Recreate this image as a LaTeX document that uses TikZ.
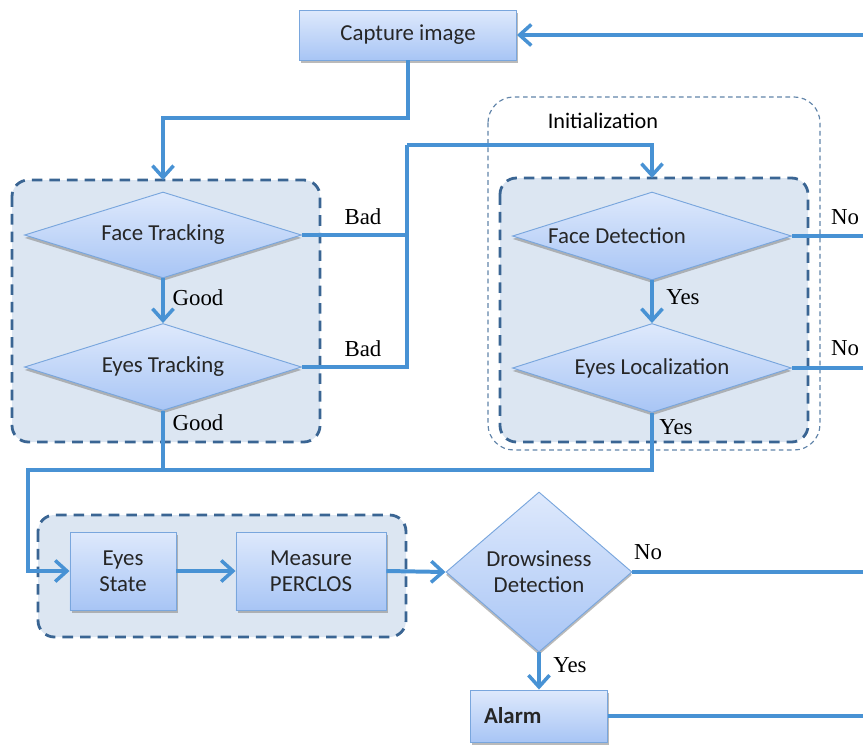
\documentclass[tikz,border=0pt]{standalone}
\usepackage{fontspec}
\setmainfont{Liberation Serif}
\newfontfamily\boxfont{Carlito}
\usetikzlibrary{shapes.geometric,arrows.meta,shadows}
\definecolor{flowline}{RGB}{72,146,212}
\definecolor{boxtop}{RGB}{222,233,252}
\definecolor{boxbot}{RGB}{168,197,245}
\definecolor{boxrim}{RGB}{121,166,221}
\definecolor{grpfill}{RGB}{220,230,242}
\definecolor{grprim}{RGB}{58,101,147}

\begin{document}
\begin{tikzpicture}[x=0.03cm,y=-0.03cm,
  procbox/.style={rectangle,draw=boxrim,line width=0.8pt,top color=boxtop,bottom color=boxbot,
     drop shadow={shadow xshift=1.5pt,shadow yshift=-2.5pt,fill=black!45,opacity=.6},
     font=\boxfont\fontsize{19.5}{22}\selectfont,text=black!85,align=center,inner sep=0pt},
  decision/.style={diamond,aspect=3.2,draw=boxrim,line width=0.8pt,top color=boxtop,bottom color=boxbot,
     drop shadow={shadow xshift=0pt,shadow yshift=-2.5pt,fill=black!45,opacity=.6},
     font=\boxfont\fontsize{19.5}{22}\selectfont,text=black!85,align=center,inner sep=0pt},
  grpbox/.style={draw=grprim,fill=grpfill,line width=2.4pt,dash pattern=on 9pt off 6pt,rounded corners=14pt},
  flow/.style={draw=flowline,line width=3.4pt},
  flowarr/.style={flow,-{Straight Barb[length=10pt,width=18pt,line width=3pt]}},
  answer/.style={font=\fontsize{19.5}{22}\selectfont,inner sep=0pt}]
  \useasboundingbox (0,0) rectangle (863,744);
   \coordinate (Edge) at (863,0);
   \coordinate (Turn) at (407,145);
   \coordinate (Join) at (28,470);
   % group frames first
   \draw[grpbox] (12,180) rectangle (320,442);
   \draw[grprim!80,line width=1pt,dash pattern=on 4pt off 3pt,rounded corners=22pt] (488,97) rectangle (820,450);
   \node[font=\boxfont\fontsize{19}{22}\selectfont] (initlabel) at (603,121) {Initialization};
   \draw[grpbox] (500,178) rectangle (808,442);
   \draw[grpbox] (38,515) rectangle (406,637);
  % boxes and diamonds
  \node[procbox,minimum width=6.51cm,minimum height=1.5cm] (capture) at (408,35) {Capture image};
  \node[decision,minimum width=8.31cm,minimum height=2.58cm] (facetrack) at (163,235) {Face Tracking};
  \node[decision,minimum width=8.31cm,minimum height=2.61cm] (eyestrack) at (163,367) {Eyes Tracking};
  \node[decision,minimum width=8.37cm,minimum height=2.64cm,
        label={[font=\boxfont\fontsize{19.5}{22}\selectfont,text=black!85,xshift=-1.05cm]center:Face Detection}] (facedet) at (652,236) {};
  \node[decision,minimum width=8.37cm,minimum height=2.67cm] (eyesloc) at (652,368) {Eyes Localization};
  \node[procbox,minimum width=3.18cm,minimum height=2.34cm] (eyesstate) at (123,571) {Eyes\\State};
  \node[procbox,minimum width=4.5cm,minimum height=2.34cm] (perclos) at (311,571) {Measure\\PERCLOS};
  \node[decision,aspect=1.16,minimum width=5.58cm,minimum height=4.8cm] (drowsy) at (539,572) {Drowsiness\\Detection};
  \node[procbox,minimum width=4.11cm,minimum height=1.56cm,font=\boxfont\bfseries\fontsize{19.5}{22}\selectfont,
        text width=3.3cm,align=left] (alarm) at (539,716) {Alarm};
  % connectors
  \draw[flowarr] (capture.south) |- (163,118) -- (163,180);
  \draw[flowarr] (facetrack.south) -- (eyestrack.north);
  \draw[flow] (facetrack.east) -| (Turn);
  \draw[flow] (eyestrack.east) -| (Turn);
  \draw[flowarr] (Turn) -| (652,178);
  \draw[flowarr] (facedet.south) -- (eyesloc.north);
  \draw[flow] (facedet.east) -- (facedet.east -| Edge);
  \draw[flow] (eyesloc.east) -- (eyesloc.east -| Edge);
  \draw[flow] (eyestrack.south) -- (eyestrack.south |- Join);
  \draw[flowarr] (eyesloc.south) |- (Join) |- (eyesstate.west);
  \draw[flowarr] (eyesstate.east) -- (perclos.west);
  \draw[flowarr] (perclos.east) -- (drowsy.west);
  \draw[flow] (drowsy.east) -- (drowsy.east -| Edge);
  \draw[flowarr] (drowsy.south) -- (alarm.north);
  \draw[flow] (alarm.east) -- (alarm.east -| Edge);
  \draw[flowarr] (Edge |- capture.east) -- (capture.east);
  % answers
  \node[answer] (badone) at (363,217) {Bad};
  \node[answer] (badtwo) at (363,349) {Bad};
  \node[answer] (goodone) at (198,298) {Good};
  \node[answer] (goodtwo) at (198,423) {Good};
  \node[answer] (yesone) at (683,297) {Yes};
  \node[answer] (yestwo) at (676,427) {Yes};
  \node[answer] (noone) at (845,217) {No};
  \node[answer] (notwo) at (845,348) {No};
  \node[answer] (nothree) at (648,552) {No};
  \node[answer] (yesthree) at (570,665) {Yes};
 \end{tikzpicture}
\end{document}
